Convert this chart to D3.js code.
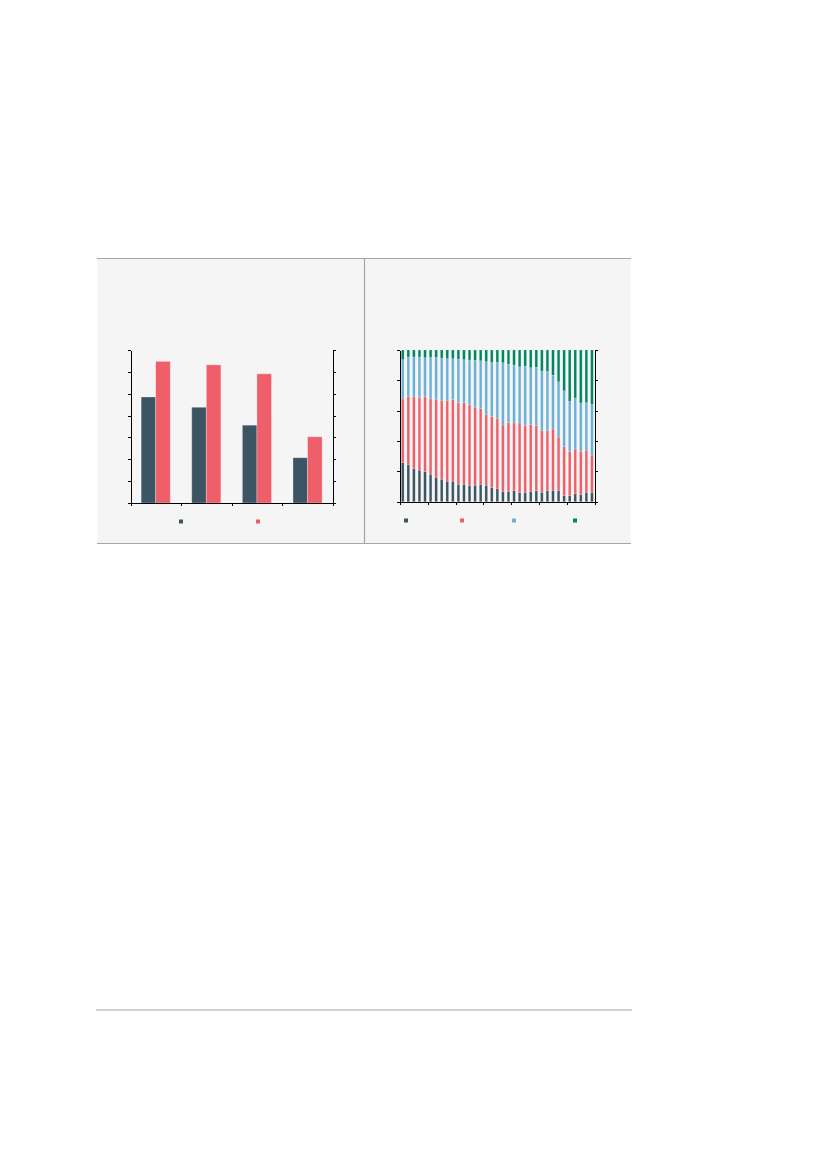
<!DOCTYPE html>
<html>
<head>
<meta charset="utf-8">
<script src="https://cdn.jsdelivr.net/npm/d3@7"></script>
<style>
  body { margin: 0; background: #fff; }
  svg { display: block; }
  .axis path, .axis line { stroke: #000; shape-rendering: crispEdges; }
</style>
</head>
<body>
<div id="page"></div>
<script>
// left chart: four groups, two series
var groups = ["g1", "g2", "g3", "g4"];
var seriesA = [4.85, 4.38, 3.56, 2.07];
var seriesB = [6.48, 6.32, 5.91, 3.03];
var leftTicks = [0, 1, 2, 3, 4, 5, 6, 7];

// right chart: 35 yearly shares, stacked to 100
var years = d3.range(1980, 2015);
var share1 = [25.8, 24.5, 21.9, 20.8, 19.9, 18.1, 16.1, 14.8, 13.5, 13.5, 11.5, 11.5, 10.8, 10.8, 11.5, 10.8, 9.3, 8.6,
              6.8, 6.8, 7.3, 6.0, 6.2, 6.8, 7.3, 6.2, 7.3, 7.5, 7.3, 4.0, 4.0, 5.3, 4.6, 6.2, 6.2];
var share2 = [42.0, 45.0, 47.2, 47.9, 49.2, 49.7, 51.0, 52.1, 52.9, 53.8, 53.8, 53.8, 53.2, 51.5, 49.9, 46.6, 46.8, 46.4,
              43.8, 45.5, 44.6, 45.9, 43.9, 44.0, 42.8, 40.7, 39.6, 40.4, 35.3, 32.2, 29.1, 29.4, 28.7, 27.8, 24.5];
var share3 = [25.8, 25.9, 26.3, 26.7, 25.8, 27.3, 28.0, 27.8, 27.9, 27.0, 28.7, 28.3, 29.4, 30.9, 31.5, 34.9, 35.7, 36.8,
              41.0, 38.4, 38.2, 37.0, 39.3, 37.5, 38.6, 39.2, 39.0, 35.5, 36.4, 36.9, 33.1, 33.7, 31.8, 31.3, 33.5];
var share4 = [6.4, 4.6, 4.6, 4.6, 5.1, 4.9, 4.9, 5.3, 5.7, 5.7, 6.0, 6.4, 6.6, 6.8, 7.1, 7.7, 8.2, 8.2,
              8.4, 9.3, 9.9, 11.1, 10.6, 11.7, 11.3, 13.9, 14.1, 16.6, 21.0, 26.9, 33.8, 31.6, 34.9, 34.7, 35.8];
var rightTicks = [0, 20, 40, 60, 80, 100];

var colDark = "#3c5565", colRed = "#ef5f6a", colBlue = "#6bb0d6", colGreen = "#00865f";

var svg = d3.select("#page").append("svg")
    .attr("width", 827)
    .attr("height", 1169);

// panel background
svg.append("rect")
    .attr("x", 97.5).attr("y", 258.5)
    .attr("width", 533).attr("height", 285)
    .attr("fill", "#f5f5f5");

svg.append("line")
    .attr("x1", 97).attr("x2", 631).attr("y1", 258.5).attr("y2", 258.5)
    .attr("stroke", "#a6a6a6").attr("stroke-width", 1.2);
svg.append("line")
    .attr("x1", 97).attr("x2", 631).attr("y1", 543.5).attr("y2", 543.5)
    .attr("stroke", "#a6a6a6").attr("stroke-width", 1.2);
svg.append("line")
    .attr("x1", 364.5).attr("x2", 364.5).attr("y1", 258.5).attr("y2", 543.5)
    .attr("stroke", "#a6a6a6").attr("stroke-width", 1.2);

// bottom rule
svg.append("line")
    .attr("x1", 96).attr("x2", 632).attr("y1", 1010).attr("y2", 1010)
    .attr("stroke", "#a6a6a6").attr("stroke-width", 1.2);

// ---- left chart ----
var x0 = d3.scaleBand()
    .domain(groups)
    .range([130.5, 333]);

var x1 = d3.scaleBand()
    .domain(["a", "b"])
    .range([x0.bandwidth() * 0.21, x0.bandwidth() * 0.785]);

var y = d3.scaleLinear()
    .domain([0, 7])
    .range([503, 350]);

var left = svg.append("g");

left.selectAll(".bar-a")
    .data(seriesA).enter()
    .append("rect")
    .attr("class", "bar-a")
    .attr("x", function(d, i) { return x0(groups[i]) + x1("a"); })
    .attr("y", function(d) { return y(d); })
    .attr("width", x1.bandwidth())
    .attr("height", function(d) { return y(0) - y(d); })
    .attr("fill", colDark)
    .attr("stroke", "rgba(255,255,255,0.35)")
    .attr("stroke-width", 0.8);

left.selectAll(".bar-b")
    .data(seriesB).enter()
    .append("rect")
    .attr("class", "bar-b")
    .attr("x", function(d, i) { return x0(groups[i]) + x1("b"); })
    .attr("y", function(d) { return y(d); })
    .attr("width", x1.bandwidth())
    .attr("height", function(d) { return y(0) - y(d); })
    .attr("fill", colRed)
    .attr("stroke", "rgba(255,255,255,0.35)")
    .attr("stroke-width", 0.8);

left.append("g")
    .attr("class", "axis")
    .attr("transform", "translate(130.5,0)")
    .call(d3.axisLeft(y).tickValues(leftTicks).tickSize(3).tickSizeOuter(0).tickFormat(""));

left.append("g")
    .attr("class", "axis")
    .attr("transform", "translate(333,0)")
    .call(d3.axisRight(y).tickValues(leftTicks).tickSize(3).tickSizeOuter(0).tickFormat(""));

// bottom axis with ticks at group boundaries
var xEdge = d3.scaleLinear().domain([0, 4]).range([130.5, 333]);
left.append("g")
    .attr("class", "axis")
    .attr("transform", "translate(0,503)")
    .call(d3.axisBottom(xEdge).ticks(4).tickSize(3).tickSizeOuter(0).tickFormat(""));

// legend
var legendLeft = [{c: colDark, x: 179}, {c: colRed, x: 256}];
left.selectAll(".leg")
    .data(legendLeft).enter()
    .append("rect")
    .attr("x", function(d) { return d.x; })
    .attr("y", 519.5)
    .attr("width", 4).attr("height", 4)
    .attr("fill", function(d) { return d.c; });

// ---- right chart ----
var rows = years.map(function(yr, i) {
    return {year: yr, s1: share1[i], s2: share2[i], s3: share3[i], s4: share4[i]};
});
var keys = ["s1", "s2", "s3", "s4"];
var colors = d3.scaleOrdinal().domain(keys).range([colDark, colRed, colBlue, colGreen]);
var stacked = d3.stack().keys(keys)(rows);

var xr = d3.scaleBand()
    .domain(years)
    .range([400, 594.7])
    .paddingInner(0.53)
    .paddingOuter(0.26);

var yr = d3.scaleLinear()
    .domain([0, 100])
    .range([501.7, 350]);

var right = svg.append("g");

right.selectAll(".layer")
    .data(stacked).enter()
    .append("g")
    .attr("class", "layer")
    .attr("fill", function(d) { return colors(d.key); })
    .selectAll("rect")
    .data(function(d) { return d; }).enter()
    .append("rect")
    .attr("x", function(d) { return xr(d.data.year); })
    .attr("y", function(d) { return yr(Math.min(d[1], 100)); })
    .attr("width", xr.bandwidth())
    .attr("height", function(d) { return yr(d[0]) - yr(Math.min(d[1], 100)); })
    .attr("stroke", "rgba(255,255,255,0.3)")
    .attr("stroke-width", 0.5);

right.append("g")
    .attr("class", "axis")
    .attr("transform", "translate(400,0)")
    .call(d3.axisLeft(yr).tickValues(rightTicks).tickSize(3).tickSizeOuter(0).tickFormat(""));

right.append("g")
    .attr("class", "axis")
    .attr("transform", "translate(594.7,0)")
    .call(d3.axisRight(yr).tickValues(rightTicks).tickSize(3).tickSizeOuter(0).tickFormat(""));

var xrEdge = d3.scaleLinear().domain([0, 35]).range([400, 594.7]);
right.append("g")
    .attr("class", "axis")
    .attr("transform", "translate(0,501.7)")
    .call(d3.axisBottom(xrEdge).tickValues(d3.range(0, 36, 5)).tickSize(3).tickSizeOuter(0).tickFormat(""));

var legendRight = [{c: colDark, x: 404}, {c: colRed, x: 460}, {c: colBlue, x: 512}, {c: colGreen, x: 573}];
right.selectAll(".leg")
    .data(legendRight).enter()
    .append("rect")
    .attr("x", function(d) { return d.x; })
    .attr("y", 518.5)
    .attr("width", 4).attr("height", 4)
    .attr("fill", function(d) { return d.c; });
</script>
</body>
</html>
